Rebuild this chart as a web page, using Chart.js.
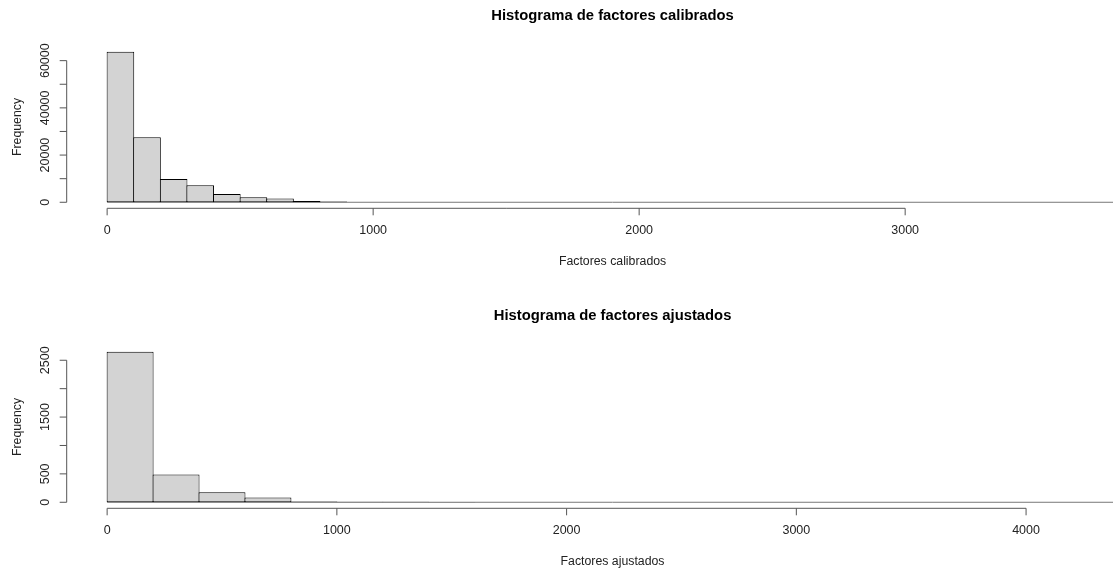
<!DOCTYPE html>
<html><head><meta charset="utf-8">
<script src="https://cdn.jsdelivr.net/npm/chart.js@4.4.1/dist/chart.umd.min.js"></script>
<style>
html,body{margin:0;padding:0;background:#fff;overflow:hidden;}
#wrap{position:relative;width:1113px;height:570px;overflow:hidden;background:#fff;}
#c1{position:absolute;left:0;top:0;}
#c2{position:absolute;left:0;top:300px;}
</style></head><body>
<div id="wrap"><canvas id="c1" width="1180" height="300"></canvas><canvas id="c2" width="1180" height="270"></canvas></div>
<script>
// ---- data: histogram of calibrated factors ----
const calibTitle = 'Histograma de factores calibrados';
const calibXLabel = 'Factores calibrados';
const calibBinWidth = 100;
const calibCounts = [63800, 27600, 9900, 7200, 3500, 2100, 1550, 550, 300, 60,
                     30, 20, 10, 6, 5, 3, 2, 2, 1, 1,
                     1, 0, 1, 0, 0, 1, 0, 0, 0, 0,
                     0, 0, 0, 0, 0, 0, 0, 1];
const calibXTicks = [0, 1000, 2000, 3000];
const calibYTicks = [0, 10000, 20000, 30000, 40000, 50000, 60000];
const calibYLabels = [0, 20000, 40000, 60000];

// ---- data: histogram of adjusted factors ----
const ajustTitle = 'Histograma de factores ajustados';
const ajustXLabel = 'Factores ajustados';
const ajustBinWidth = 200;
const ajustCounts = [2651, 490, 175, 82, 15, 10, 8, 5, 0, 0,
                     0, 0, 0, 0, 0, 0, 0, 0, 0, 0,
                     0, 1];
const ajustXTicks = [0, 1000, 2000, 3000, 4000];
const ajustYTicks = [0, 500, 1000, 1500, 2000, 2500];
const ajustYLabels = [0, 500, 1500, 2500];

const yLabelText = 'Frequency';

const FONT = "'Liberation Sans', Arial, Helvetica, sans-serif";
const PLOT_LEFT = 66.7;
const PLOT_BOTTOM = 208.3;
const PAD_RIGHT = 21.6;

const rAxes = {
  id: 'rAxes',
  beforeDatasetsDraw(chart, args, opts) {
    const {ctx, scales: {x, y}} = chart;
    ctx.save();
    ctx.strokeStyle = '#777';
    ctx.lineWidth = 1;
    const y0 = y.getPixelForValue(0);
    ctx.beginPath();
    ctx.moveTo(x.getPixelForValue(0), y0);
    ctx.lineTo(x.getPixelForValue(opts.lastBreak), y0);
    ctx.stroke();
    ctx.restore();
  },
  afterDraw(chart, args, opts) {
    const {ctx, chartArea: {left, bottom}, scales: {x, y}} = chart;
    const xt = opts.xTicks, yt = opts.yTicks;
    ctx.save();
    ctx.strokeStyle = '#555';
    ctx.lineWidth = 1;
    ctx.beginPath();
    ctx.moveTo(x.getPixelForValue(xt[0]), bottom);
    ctx.lineTo(x.getPixelForValue(xt[xt.length - 1]), bottom);
    xt.forEach(v => { const px = x.getPixelForValue(v); ctx.moveTo(px, bottom); ctx.lineTo(px, bottom + 7); });
    ctx.moveTo(left, y.getPixelForValue(yt[0]));
    ctx.lineTo(left, y.getPixelForValue(yt[yt.length - 1]));
    yt.forEach(v => { const py = y.getPixelForValue(v); ctx.moveTo(left, py); ctx.lineTo(left - 7, py); });
    ctx.stroke();
    ctx.fillStyle = '#222';
    ctx.font = '12.5px ' + FONT;
    ctx.textAlign = 'center';
    ctx.textBaseline = 'middle';
    opts.yLabels.forEach(v => {
      ctx.save();
      ctx.translate(left - 21.5, y.getPixelForValue(v));
      ctx.rotate(-Math.PI / 2);
      ctx.fillText(String(v), 0, 0);
      ctx.restore();
    });
    ctx.restore();
  }
};

function makeChart(canvas, cfg) {
  const lastBreak = cfg.binWidth * cfg.counts.length;
  const maxCount = Math.max(...cfg.counts);
  const data = cfg.counts.map((c, i) => ({x: cfg.binWidth * (i + 0.5), y: c}));
  const canvasH = canvas.height;
  return new Chart(canvas, {
    type: 'bar',
    data: {datasets: [{
      data,
      backgroundColor: '#D3D3D3',
      borderColor: '#000',
      borderWidth: 1,
      borderSkipped: false,
      barPercentage: cfg.barPct,
      categoryPercentage: 1,
      grouped: false
    }]},
    options: {
      responsive: false,
      animation: false,
      events: [],
      layout: {padding: {left: 0, right: PAD_RIGHT, top: 0, bottom: 0}},
      plugins: {
        legend: {display: false},
        tooltip: {enabled: false},
        title: {display: true, text: cfg.title, fullSize: false,
          font: {family: FONT, size: 14.8, weight: 'bold'}, color: '#000',
          padding: {top: 7.3, bottom: 20.6}},
        rAxes: {lastBreak, xTicks: cfg.xTicks, yTicks: cfg.yTicks, yLabels: cfg.yLabels}
      },
      scales: {
        x: {
          type: 'linear', offset: false,
          min: -0.04 * lastBreak, max: 1.04 * lastBreak,
          grid: {display: false, drawTicks: false}, border: {display: false},
          afterBuildTicks: s => { s.ticks = cfg.xTicks.map(v => ({value: v})); },
          afterFit: s => { s.height = canvasH - PLOT_BOTTOM; },
          ticks: {font: {family: FONT, size: 12.5}, color: '#222', padding: 15,
            maxRotation: 0, minRotation: 0, autoSkip: false, callback: v => String(v)},
          title: {display: true, text: cfg.xLabel, font: {family: FONT, size: 12.3}, color: '#222',
            padding: {top: 0, bottom: cfg.xTitlePad}}
        },
        y: {
          type: 'linear',
          min: -0.04 * maxCount, max: 1.04 * maxCount,
          grid: {display: false, drawTicks: false}, border: {display: false},
          ticks: {display: false},
          afterFit: s => { s.width = PLOT_LEFT; },
          title: {display: true, text: yLabelText, font: {family: FONT, size: 12.3}, color: '#222',
            padding: {top: 10, bottom: 0}}
        }
      }
    },
    plugins: [rAxes]
  });
}

makeChart(document.getElementById('c1'), {
  title: calibTitle, xLabel: calibXLabel, binWidth: calibBinWidth, counts: calibCounts,
  xTicks: calibXTicks, yTicks: calibYTicks, yLabels: calibYLabels, barPct: 1.0376, xTitlePad: 30.6
});
makeChart(document.getElementById('c2'), {
  title: ajustTitle, xLabel: ajustXLabel, binWidth: ajustBinWidth, counts: ajustCounts,
  xTicks: ajustXTicks, yTicks: ajustYTicks, yLabels: ajustYLabels, barPct: 1.0218, xTitlePad: 0.6
});
</script>
</body></html>
